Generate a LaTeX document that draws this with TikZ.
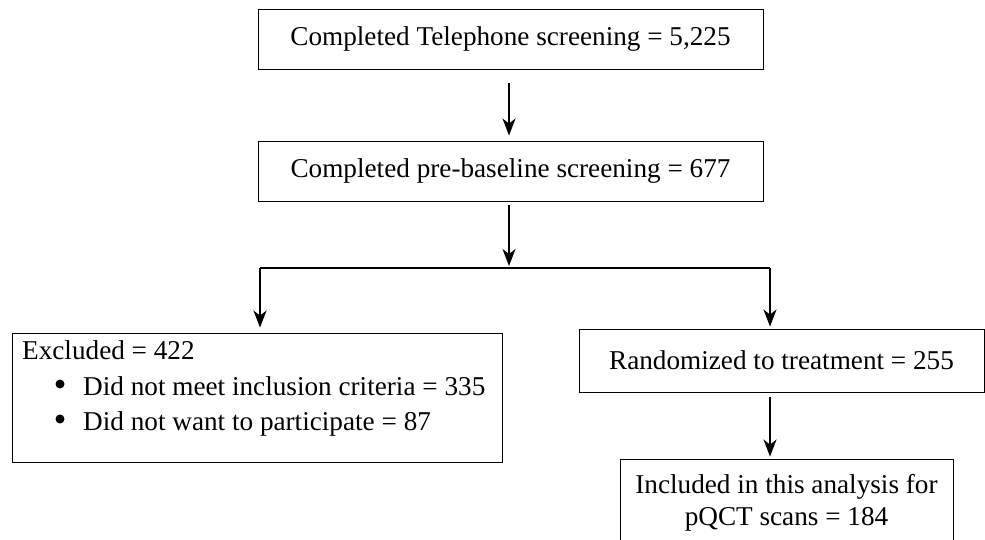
\documentclass[tikz,border=0pt]{standalone}
\usepackage{fontspec}
\setmainfont{Liberation Serif}
\usetikzlibrary{arrows.meta}
\begin{document}
\begin{tikzpicture}[x=1pt,y=-1pt,
  box/.style={draw,line width=0.9pt,rectangle,inner sep=0pt},
  txt/.style={font=\fontsize{27.2}{32}\selectfont,inner sep=0pt},
  arr/.style={line width=1.8pt,-{Stealth[length=17pt,width=13pt,inset=5pt]}},
  conn/.style={line width=1.8pt},
  dot/.style={circle,fill,inner sep=0pt,minimum size=9pt}]
\useasboundingbox (0,0) rectangle (985,540);
\node[box,minimum width=505pt,minimum height=60pt] (n1) at (510.5,39) {};
\node[txt] (t1) at (n1.center) {Completed Telephone screening = 5,225};
\node[box,minimum width=505pt,minimum height=60pt] (n2) at (510.5,171) {};
\node[txt] (t2) at (n2.center) {Completed pre-baseline screening = 677};
\node[box,minimum width=490pt,minimum height=129pt] (ex) at (257,397.5) {};
\node[txt,anchor=base west] (e1) at (22,359) {Excluded = 422};
\node[txt,anchor=base west] (e2) at (83,395) {Did not meet inclusion criteria = 335};
\node[txt,anchor=base west] (e3) at (83,430) {Did not want to participate = 87};
\node[dot] (b1) at (60,384) {};
\node[dot] (b2) at (60,419) {};
\node[box,minimum width=405pt,minimum height=63pt] (ra) at (781.5,360.5) {};
\node[txt] (t4) at (ra.center) {Randomized to treatment = 255};
\node[box,minimum width=333pt,minimum height=100pt] (in) at (786.5,509) {};
\node[txt,anchor=base] (t5) at (786.5,493) {Included in this analysis for};
\node[txt,anchor=base] (t6) at (786.5,525) {pQCT scans = 184};
\coordinate (j) at (509,268);
\coordinate (jl) at (260,268);
\coordinate (jr) at (770,268);
\draw[arr,shorten <=14pt,shorten >=5pt] (509,0 |- n1.south) -- (509,0 |- n2.north);
\draw[conn] (jl) -- (jr);
\draw[arr,shorten <=4pt,shorten >=2pt] (509,0 |- n2.south) -- (j);
\draw[arr,shorten >=5pt] (jl) -- (jl |- ex.north);
\draw[arr,shorten >=2pt] (jr) -- (jr |- ra.north);
\draw[arr,shorten <=5pt,shorten >=2pt] (jr |- ra.south) -- (jr |- in.north);
\end{tikzpicture}
\end{document}
